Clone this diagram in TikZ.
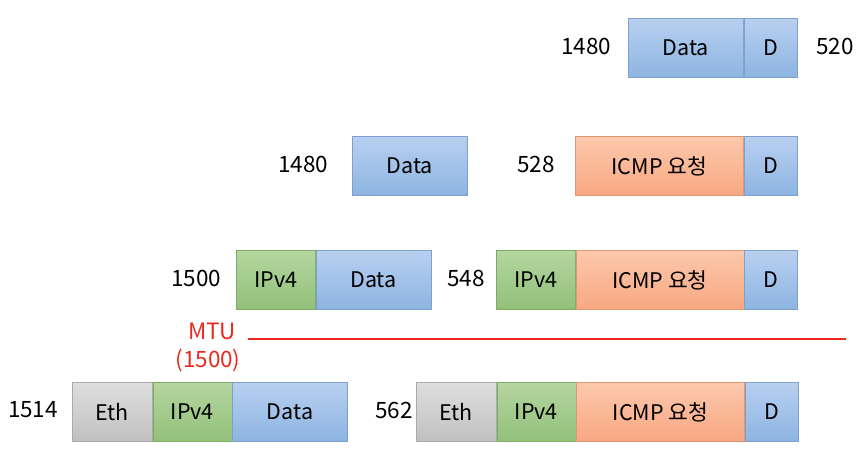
\documentclass[tikz,border=0pt]{standalone}
\usepackage{fontspec}
\setmainfont{Noto Sans CJK KR}
\usetikzlibrary{positioning}
\definecolor{datT}{RGB}{184,208,240}
\definecolor{datB}{RGB}{141,180,226}
\definecolor{datL}{RGB}{125,160,205}
\definecolor{ipT}{RGB}{180,214,160}
\definecolor{ipB}{RGB}{146,192,122}
\definecolor{ipL}{RGB}{125,170,100}
\definecolor{icT}{RGB}{252,200,172}
\definecolor{icB}{RGB}{248,168,130}
\definecolor{icL}{RGB}{225,150,115}
\definecolor{ethT}{RGB}{222,222,222}
\definecolor{ethB}{RGB}{192,192,192}
\definecolor{ethL}{RGB}{170,170,170}
\definecolor{mtuRed}{RGB}{235,40,30}
\tikzset{
  blk/.style={minimum height=59pt, inner sep=0pt, anchor=west, line width=0.6pt,
    font=\fontsize{21.5}{25}\selectfont},
  dat/.style={blk, draw=datL, top color=datT, bottom color=datB, minimum width=115pt},
  dd/.style={blk, draw=datL, top color=datT, bottom color=datB, minimum width=53pt},
  ip/.style={blk, draw=ipL, top color=ipT, bottom color=ipB, minimum width=79pt},
  icmp/.style={blk, draw=icL, top color=icT, bottom color=icB, minimum width=168pt},
  eth/.style={blk, draw=ethL, top color=ethT, bottom color=ethB, minimum width=80pt},
  num/.style={font=\fontsize{22.5}{26}\selectfont, inner sep=0pt}
}
\begin{document}
\begin{tikzpicture}[x=1pt,y=-1pt]
\useasboundingbox (0,0) rectangle (862,450);
% row 1
\node[dat] (r1data) at (628,48) {Data};
\node[dd,right=0pt of r1data] (r1d) {D};
\node[num] (r1n) at (586,46) {1480};
\node[num] (r1m) at (835,46) {520};
% row 2
\node[dat] (r2data) at (352,166) {Data};
\node[num] (r2n) at (303,164) {1480};
\node[icmp] (r2icmp) at (575,166) {ICMP 요청};
\node[dd,right=0pt of r2icmp] (r2d) {D};
\node[num] (r2m) at (536,164) {528};
% row 3
\node[ip] (r3ip) at (236,280) {IPv4};
\node[dat,right=0pt of r3ip] (r3data) {Data};
\node[num] (r3n) at (196,278) {1500};
\node[ip] (r3ipb) at (496,280) {IPv4};
\node[icmp,right=0pt of r3ipb] (r3icmp) {ICMP 요청};
\node[dd,right=0pt of r3icmp] (r3d) {D};
\node[num] (r3m) at (466,278) {548};
% MTU
\node[num,text=mtuRed] (mtu) at (212,331) {MTU};
\node[num,text=mtuRed] (mtuval) at (208,360) {(1500)};
\coordinate (mtuA) at (248,339);
\coordinate (mtuB) at (846,339);
\draw[mtuRed,line width=1.6pt] (mtuA) -- (mtuB);
% row 4
\node[eth] (r4eth) at (72,412) {Eth};
\node[ip,right=0pt of r4eth] (r4ip) {IPv4};
\node[dat,right=0pt of r4ip] (r4data) {Data};
\node[num] (r4n) at (33,410) {1514};
\node[eth] (r4ethb) at (416,412) {Eth};
\node[ip,right=0pt of r4ethb] (r4ipb) {IPv4};
\node[icmp,right=0pt of r4ipb] (r4icmp) {ICMP 요청};
\node[dd,right=0pt of r4icmp] (r4d) {D};
\node[num] (r4m) at (394,410) {562};
\end{tikzpicture}
\end{document}
